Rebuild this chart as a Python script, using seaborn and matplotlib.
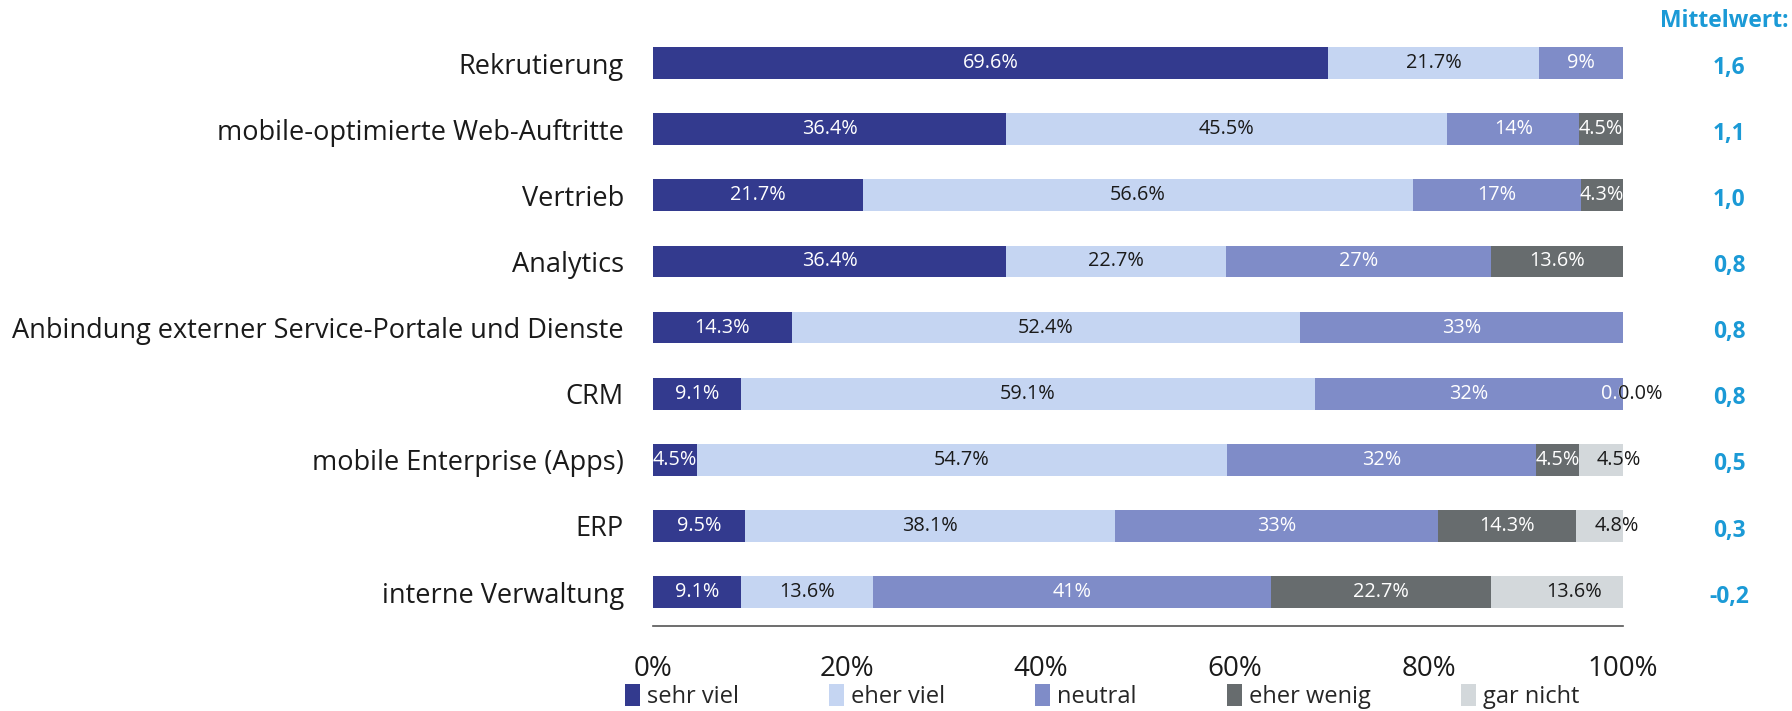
import numpy as np
import pandas as pd
import seaborn as sns
import matplotlib.pyplot as plt
from matplotlib.patches import Patch
from matplotlib import transforms

sns.set_theme(style="white")
plt.rcParams["font.family"] = ["Open Sans", "DejaVu Sans"]

categories = ["Rekrutierung", "mobile-optimierte Web-Auftritte", "Vertrieb", "Analytics",
              "Anbindung externer Service-Portale und Dienste", "CRM",
              "mobile Enterprise (Apps)", "ERP", "interne Verwaltung"]
answers = ["sehr viel", "eher viel", "neutral", "eher wenig", "gar nicht"]
sehr_viel = [69.6, 36.4, 21.7, 36.4, 14.3, 9.1, 4.5, 9.5, 9.1]
eher_viel = [21.7, 45.5, 56.6, 22.7, 52.4, 59.1, 54.7, 38.1, 13.6]
neutral = [8.7, 13.6, 17.4, 27.3, 33.3, 31.8, 31.8, 33.3, 40.9]
eher_wenig = [np.nan, 4.5, 4.3, 13.6, np.nan, 0.0, 4.5, 14.3, 22.7]
gar_nicht = [np.nan, np.nan, np.nan, np.nan, np.nan, 0.0, 4.5, 4.8, 13.6]
mittelwert = [1.6, 1.1, 1.0, 0.8, 0.8, 0.8, 0.5, 0.3, -0.2]

colors = ["#333a8e", "#c5d5f2", "#7f8cc8", "#676c6e", "#d3d8db"]
text_colors = ["white", "#1a1a1a", "white", "white", "#1a1a1a"]
fmts = ["{:.1f}%", "{:.1f}%", "{:.0f}%", "{:.1f}%", "{:.1f}%"]

df = pd.DataFrame(dict(zip(answers, [sehr_viel, eher_viel, neutral, eher_wenig, gar_nicht])),
                  index=categories)
shares = df.fillna(0).div(df.fillna(0).sum(axis=1), axis=0) * 100
cum = shares.cumsum(axis=1)

fig = plt.figure(figsize=(17.92, 7.11), dpi=100)
ax = fig.add_axes([0.3644, 0.1195, 0.5413, 0.8475])

# stacked bars: draw cumulative totals from longest to shortest
for ans, col in zip(reversed(answers), reversed(colors)):
    sns.barplot(x=cum[ans].values, y=categories, orient="h", color=col, saturation=1,
                width=0.48, linewidth=0, ax=ax)

ax.set_xlim(0, 100)
ax.set_ylim(8.514, -0.6)
ax.set_xlabel("")
ax.set_ylabel("")
ax.set_xticks([0, 20, 40, 60, 80, 100])
ax.set_xticklabels([f"{t}%" for t in [0, 20, 40, 60, 80, 100]])
ax.tick_params(axis="x", length=0, pad=21, labelsize=20, labelcolor="#1a1a1a")
ax.tick_params(axis="y", length=0, pad=21, labelsize=19.5, labelcolor="#1a1a1a")
for s in ["top", "right", "left"]:
    ax.spines[s].set_visible(False)
ax.spines["bottom"].set_color("#555555")
ax.spines["bottom"].set_linewidth(1.2)

# segment labels
for i, cat in enumerate(categories):
    for j, ans in enumerate(answers):
        v = df.loc[cat, ans]
        if np.isnan(v):
            continue
        xc = cum.loc[cat, ans] - shares.loc[cat, ans] / 2
        if ans == "gar nicht":
            xc += 1.8
        ax.text(xc, i, fmts[j].format(v), ha="center", va="center",
                color=text_colors[j], fontsize=14.3)

# Mittelwert column
trans = transforms.blended_transform_factory(fig.transFigure, ax.transData)
for i, m in enumerate(mittelwert):
    ax.text(0.965, i + 0.07, f"{m:.1f}".replace(".", ","), transform=trans,
            ha="center", va="center", color="#1b9ad6", fontsize=16.4, fontweight="bold")
fig.text(0.998, 0.970, "Mittelwert:", ha="right", va="center", color="#1b9ad6",
         fontsize=16.5, fontweight="bold")

handles = [Patch(facecolor=c, edgecolor="none") for c in colors]
fig.legend(handles, answers, loc="center", bbox_to_anchor=(0.615, 0.02), ncol=5,
           frameon=False, fontsize=17, handlelength=0.65, handleheight=1.0,
           handletextpad=0.3, columnspacing=3.8, borderpad=0)

fig.savefig("out.png", dpi=100)
